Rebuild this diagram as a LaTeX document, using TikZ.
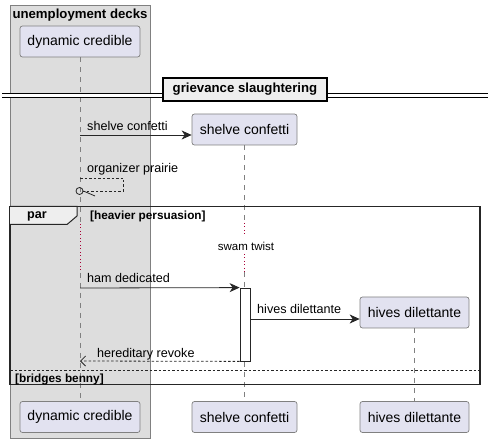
\documentclass[tikz,border=0pt]{standalone}
\usepackage{fontspec}
\setmainfont{Liberation Sans}
\usetikzlibrary{arrows.meta}
\definecolor{partfill}{HTML}{E2E2F0}
\definecolor{partdraw}{HTML}{808080}
\definecolor{boxfill}{HTML}{DDDDDD}
\definecolor{tabfill}{HTML}{EEEEEE}
\definecolor{delaycol}{HTML}{A80036}
\tikzset{
  part/.style={draw=partdraw, fill=partfill, rounded corners=2.5pt, line width=0.7pt,
    minimum height=31pt, inner sep=0pt, font=\fontsize{14}{16}\selectfont},
  lifeline/.style={draw=gray, line width=0.6pt, dash pattern=on 5pt off 5pt},
  delayline/.style={draw=delaycol, line width=0.8pt, dash pattern=on 1pt off 2.5pt},
  msg/.style={draw=black!85, line width=0.8pt, -{Stealth[length=10pt,width=9pt,inset=3pt]}},
  ret/.style={draw=black!85, line width=0.8pt, dash pattern=on 2.5pt off 2pt, -{Straight Barb[length=5pt,width=10pt]}},
  lbl/.style={font=\fontsize{12.6}{14}\selectfont, inner sep=0pt, anchor=base west},
  grp/.style={font=\bfseries\fontsize{11.8}{13}\selectfont, inner sep=0pt},
}
\begin{document}
\begin{tikzpicture}[x=1pt,y=-1pt]
\useasboundingbox (0,0) rectangle (495,443);
% box
\node[draw=gray, fill=boxfill, line width=0.6pt, minimum width=140pt, minimum height=433pt, inner sep=0pt] (box) at (80,221.5) {};
\node[grp, font=\bfseries\fontsize{13.2}{15}\selectfont] (boxtitle) at (80,15) {unemployment decks};
% participants
\node[part, minimum width=120pt] (dchead) at (80,41.5) {dynamic credible};
\node[part, minimum width=120pt] (dcfoot) at (80,417) {dynamic credible};
\node[part, minimum width=105pt] (schead) at (244.5,129.5) {shelve confetti};
\node[part, minimum width=105pt] (scfoot) at (244.5,417) {shelve confetti};
\node[part, minimum width=109pt] (hdhead) at (414.5,312.5) {hives dilettante};
\node[part, minimum width=109pt] (hdfoot) at (414.5,417) {hives dilettante};
% lifelines
\coordinate (dcd1) at (80,224);
\coordinate (dcd2) at (80,273);
\draw[lifeline] (dchead.south) -- (dcd1);
\draw[delayline] (dcd1) -- (dcd2);
\draw[lifeline] (dcd2) -- (dcfoot.north);
\coordinate (scd1) at (244.5,223);
\coordinate (scd2) at (244.5,237);
\coordinate (scd3) at (244.5,254);
\coordinate (scd4) at (244.5,272);
\draw[lifeline] (schead.south) -- (scd1);
\draw[delayline] (scd1) -- (scd2);
\draw[delayline] (scd3) -- (scd4);
\draw[lifeline] (scd4) -- (scfoot.north);
\draw[lifeline] (hdhead.south) -- (hdfoot.north);
% divider
\coordinate (dvl) at (2,95.5);
\coordinate (dvr) at (488,95.5);
\draw[line width=0.8pt, double distance=2.6pt] (dvl) -- (dvr);
\node[draw, fill=tabfill, line width=1.4pt, minimum width=164pt, minimum height=23pt, inner sep=0pt,
  font=\bfseries\fontsize{13.2}{15}\selectfont] (div) at (245,89.5) {grievance slaughtering};
% message 1
\coordinate (m1s) at (80,135);
\draw[msg] (m1s) -- (schead.west |- m1s);
\node[lbl] (m1l) at (87,131) {shelve confetti};
% self message
\node[lbl] (m2l) at (87,173) {organizer prairie};
\coordinate (s1) at (80,178);
\coordinate (s2) at (123,178);
\coordinate (s3) at (123,191);
\node[draw=black!85, circle, line width=0.8pt, minimum size=7pt, inner sep=0pt] (lost) at (79.5,191) {};
\draw[black!85, line width=0.6pt, dash pattern=on 2.5pt off 2pt] (s1) -- (s2) -- (s3) -- (lost.east |- s3);
\coordinate (tipend) at (95,196);
\draw[black!85, line width=0.8pt] (lost.east) -- (tipend);
% par frame
\node[draw=black!85, line width=1.4pt, minimum width=470pt, minimum height=178pt, inner sep=0pt] (par) at (245,295.5) {};
\draw[draw=black!85, fill=tabfill, line width=1pt] (10,206.5) -- (77,206.5) -- (77,216) -- (67,224.5) -- (10,224.5);
\node[grp, font=\bfseries\fontsize{12.6}{14}\selectfont] (partitle) at (37,216.5) {par};
\node[grp, anchor=base west] (cond1) at (90,220) {[heavier persuasion]};
\node[font=\fontsize{11.5}{13}\selectfont, inner sep=0pt] (delaytxt) at (246,246) {swam twist};
% activation and messages
\node[draw=black!85, fill=white, line width=0.8pt, minimum width=10pt, minimum height=73pt, inner sep=0pt] (act) at (245,324.5) {};
\coordinate (m3s) at (80,288);
\draw[msg] (m3s) -- (act.north west);
\node[lbl] (m3l) at (87,283) {ham dedicated};
\draw[msg] (act.east |- 0,319) -- (hdhead.west |- 0,319);
\node[lbl] (m4l) at (257,314) {hives dilettante};
\coordinate (m5e) at (80,361);
\draw[ret] (act.south west) -- (m5e);
\node[lbl] (m5l) at (97,357) {hereditary revoke};
% else
\coordinate (el) at (10,370.5);
\coordinate (er) at (480,370.5);
\draw[black!85, line width=0.6pt, dash pattern=on 2.5pt off 2pt] (el) -- (er);
\node[grp, anchor=base west] (cond2) at (15,382.5) {[bridges benny]};
\end{tikzpicture}
\end{document}
